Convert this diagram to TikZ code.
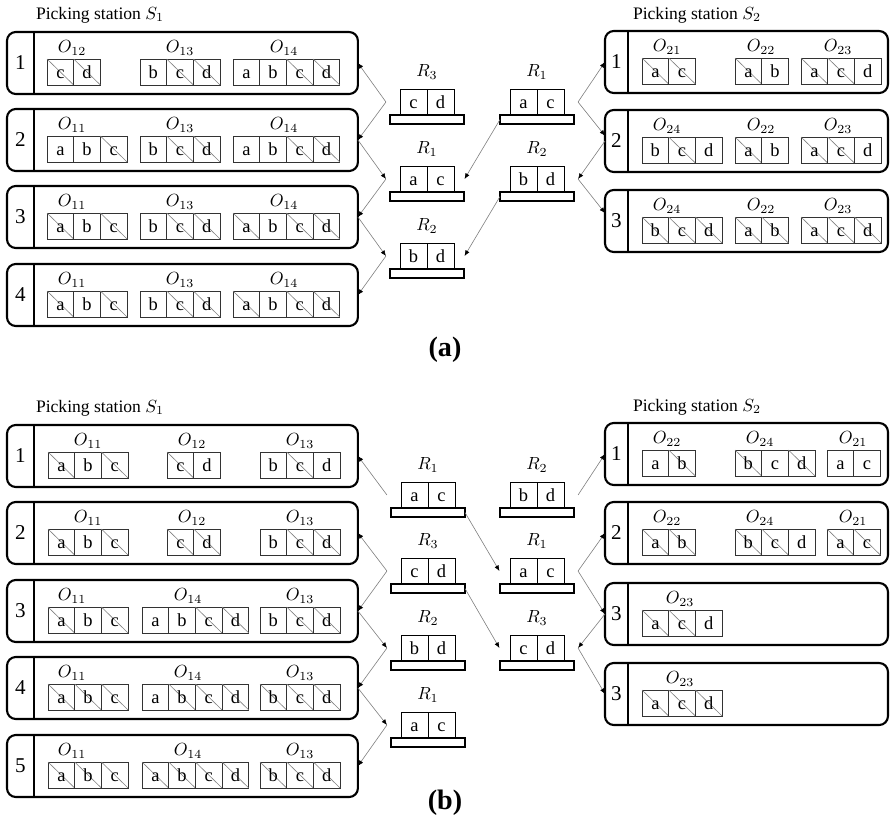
\documentclass[tikz,border=0pt]{standalone}
\usepackage{fontspec}
\setmainfont{Liberation Serif}
\usetikzlibrary{arrows.meta}

% one time slot of a picking station: name, x left, y top, width, divider offset, number
\newcommand{\slotrow}[6]{%
  \node[slotbox, minimum width=#4] (#1) at (#2,#3) {};
  \draw[divider] ([xshift=#5]#1.north west) -- ([xshift=#5]#1.south west);
  \node[slotnum] (#1-n) at ([xshift=#5/2]#1.west) {#6};
}
% one order: name, x of first bin, slot top, label x, order, items (letter/picked)
\newcommand{\orderbox}[6]{%
  \node (#1) at (#4,#3+16) {$#5$};
  \foreach \itm/\done [count=\i from 0] in {#6} {
    \draw[bin] (#2+\i*26.7,#3+27) rectangle ++(26.7,26);
    \ifnum\done=1 \draw[strike] (#2+\i*26.7,#3+27) -- ++(26.7,26); \fi
    \node[letter] (#1-\i) at (#2+\i*26.7+13.35,#3+40) {\itm};
  }
}
% one rack: name, x centre, y top of bins, index, two items
\newcommand{\rackunit}[6]{%
  \node[rackbase] (#1) at (#2,#3+30.5) {};
  \node[rackbin, anchor=south east] (#1-a) at (#1.north) {#5};
  \node[rackbin, anchor=south west] (#1-b) at (#1.north) {#6};
  \node (#1-l) at (#2,#3-17) {$R_{#4}$};
  \coordinate (#1-w) at ([xshift=-8pt]#1-a.west);
  \coordinate (#1-e) at ([xshift=8pt]#1-b.east);
}

\begin{document}
\begin{tikzpicture}[x=0.02cm, y=-0.02cm]
  \tikzset{
    slotbox/.style={draw, line width=1.2pt, rounded corners=5pt, minimum height=1.24cm,
      inner sep=0pt, outer sep=0pt, anchor=north west},
    divider/.style={line width=1.1pt},
    slotnum/.style={font=\fontsize{12}{14}\selectfont},
    bin/.style={draw=black!80, line width=0.55pt},
    strike/.style={draw=gray, line width=0.35pt},
    letter/.style={inner sep=0pt, font=\fontsize{10.5}{12}\selectfont, text height=1.5ex, text depth=0pt},
    rackbase/.style={draw, line width=0.9pt, minimum width=1.48cm, minimum height=0.18cm,
      inner sep=0pt, outer sep=0pt},
    rackbin/.style={draw, line width=0.55pt, minimum width=0.54cm, minimum height=0.52cm,
      inner sep=0pt, outer sep=0pt, font=\fontsize{10.5}{12}\selectfont, text height=1.5ex, text depth=0pt},
    trip/.style={draw=gray, line width=0.35pt, -{Latex[length=3.2pt,width=2.6pt,color=black]}},
    sttitle/.style={font=\fontsize{10}{12}\selectfont},
    panel/.style={font=\fontsize{16}{18}\selectfont\bfseries}
  }
  \useasboundingbox (0,0) rectangle (890,823);

  % ---------- (a) ----------
  % Picking station S1
  \node[sttitle] (aS1) at (100,15) {Picking station $S_1$};
  \slotrow{aS1r1}{7}{32}{7.02cm}{0.54cm}{1}
  \slotrow{aS1r2}{7}{109}{7.02cm}{0.54cm}{2}
  \slotrow{aS1r3}{7}{186}{7.02cm}{0.54cm}{3}
  \slotrow{aS1r4}{7}{264}{7.02cm}{0.54cm}{4}
  \orderbox{aS1r1o1}{47}{32}{72}{O_{12}}{c/1,d/1}
  \orderbox{aS1r1o2}{140}{32}{180}{O_{13}}{b/0,c/1,d/1}
  \orderbox{aS1r1o3}{233}{32}{284}{O_{14}}{a/0,b/0,c/1,d/1}
  \orderbox{aS1r2o1}{47}{109}{72}{O_{11}}{a/0,b/0,c/1}
  \orderbox{aS1r2o2}{140}{109}{180}{O_{13}}{b/0,c/1,d/1}
  \orderbox{aS1r2o3}{233}{109}{284}{O_{14}}{a/0,b/0,c/1,d/1}
  \orderbox{aS1r3o1}{47}{186}{72}{O_{11}}{a/1,b/0,c/1}
  \orderbox{aS1r3o2}{140}{186}{180}{O_{13}}{b/0,c/1,d/1}
  \orderbox{aS1r3o3}{233}{186}{284}{O_{14}}{a/1,b/0,c/1,d/1}
  \orderbox{aS1r4o1}{47}{264}{72}{O_{11}}{a/1,b/0,c/1}
  \orderbox{aS1r4o2}{140}{264}{180}{O_{13}}{b/0,c/1,d/1}
  \orderbox{aS1r4o3}{233}{264}{284}{O_{14}}{a/1,b/0,c/1,d/1}

  % Picking station S2
  \node[sttitle] (aS2) at (697,15) {Picking station $S_2$};
  \slotrow{aS2r1}{605}{31}{5.66cm}{0.46cm}{1}
  \slotrow{aS2r2}{605}{110}{5.66cm}{0.46cm}{2}
  \slotrow{aS2r3}{605}{190}{5.66cm}{0.46cm}{3}
  \orderbox{aS2r1o1}{642}{31}{667}{O_{21}}{a/1,c/1}
  \orderbox{aS2r1o2}{735}{31}{761}{O_{22}}{a/1,b/0}
  \orderbox{aS2r1o3}{801}{31}{838}{O_{23}}{a/1,c/1,d/0}
  \orderbox{aS2r2o1}{642}{110}{667}{O_{24}}{b/0,c/1,d/0}
  \orderbox{aS2r2o2}{735}{110}{761}{O_{22}}{a/1,b/0}
  \orderbox{aS2r2o3}{801}{110}{838}{O_{23}}{a/1,c/1,d/0}
  \orderbox{aS2r3o1}{642}{190}{667}{O_{24}}{b/1,c/1,d/1}
  \orderbox{aS2r3o2}{735}{190}{761}{O_{22}}{a/1,b/1}
  \orderbox{aS2r3o3}{801}{190}{838}{O_{23}}{a/1,c/1,d/1}

  % racks
  \rackunit{aL1}{427}{89}{3}{c}{d}
  \rackunit{aL2}{427}{166}{1}{a}{c}
  \rackunit{aL3}{427}{243}{2}{b}{d}
  \rackunit{aR1}{537}{89}{1}{a}{c}
  \rackunit{aR2}{537}{166}{2}{b}{d}

  % rack trips
  \draw[trip] (aL1-w) -- (aS1r1.east);
  \draw[trip] (aL1-w) -- (aS1r2.east);
  \draw[trip] (aS1r2.east) -- (aL2-w);
  \draw[trip] (aL2-w) -- (aS1r3.east);
  \draw[trip] (aS1r3.east) -- (aL3-w);
  \draw[trip] (aL3-w) -- (aS1r4.east);
  \draw[trip] (aR1-e) -- (aS2r1.west);
  \draw[trip] (aR1-e) -- ([yshift=3pt]aS2r2.west);
  \draw[trip] (aS2r2.west) -- (aR2-e);
  \draw[trip] (aR2-e) -- ([yshift=4.5pt]aS2r3.west);
  \draw[trip] (aR1.west) -- ([xshift=6pt]aL2-b.east);
  \draw[trip] (aR2.west) -- ([xshift=6pt]aL3-b.east);

  \node[panel] (pa) at (445,350) {(a)};

  % ---------- (b) ----------
  % Picking station S1
  \node[sttitle] (bS1) at (100,408) {Picking station $S_1$};
  \slotrow{bS1r1}{7}{425}{7.02cm}{0.54cm}{1}
  \slotrow{bS1r2}{7}{502}{7.02cm}{0.54cm}{2}
  \slotrow{bS1r3}{7}{580}{7.02cm}{0.54cm}{3}
  \slotrow{bS1r4}{7}{657}{7.02cm}{0.54cm}{4}
  \slotrow{bS1r5}{7}{735}{7.02cm}{0.54cm}{5}
  \orderbox{bS1r1o1}{48}{425}{88}{O_{11}}{a/1,b/0,c/1}
  \orderbox{bS1r1o2}{167}{425}{192}{O_{12}}{c/1,d/0}
  \orderbox{bS1r1o3}{260}{425}{300}{O_{13}}{b/0,c/1,d/0}
  \orderbox{bS1r2o1}{48}{502}{88}{O_{11}}{a/1,b/0,c/1}
  \orderbox{bS1r2o2}{167}{502}{192}{O_{12}}{c/1,d/1}
  \orderbox{bS1r2o3}{260}{502}{300}{O_{13}}{b/0,c/1,d/1}
  \orderbox{bS1r3o1}{48}{580}{72}{O_{11}}{a/1,b/0,c/1}
  \orderbox{bS1r3o2}{142}{580}{188}{O_{14}}{a/0,b/0,c/1,d/1}
  \orderbox{bS1r3o3}{260}{580}{300}{O_{13}}{b/0,c/1,d/1}
  \orderbox{bS1r4o1}{48}{657}{72}{O_{11}}{a/1,b/1,c/1}
  \orderbox{bS1r4o2}{142}{657}{188}{O_{14}}{a/0,b/1,c/1,d/1}
  \orderbox{bS1r4o3}{260}{657}{300}{O_{13}}{b/1,c/1,d/1}
  \orderbox{bS1r5o1}{48}{735}{72}{O_{11}}{a/1,b/1,c/1}
  \orderbox{bS1r5o2}{142}{735}{188}{O_{14}}{a/1,b/1,c/1,d/1}
  \orderbox{bS1r5o3}{260}{735}{300}{O_{13}}{b/1,c/1,d/1}

  % Picking station S2
  \node[sttitle] (bS2) at (697,407) {Picking station $S_2$};
  \slotrow{bS2r1}{605}{423}{5.66cm}{0.46cm}{1}
  \slotrow{bS2r2}{605}{502}{5.66cm}{0.46cm}{2}
  \slotrow{bS2r3}{605}{583}{5.66cm}{0.46cm}{3}
  \slotrow{bS2r4}{605}{663}{5.66cm}{0.46cm}{3}
  \orderbox{bS2r1o1}{642}{423}{667}{O_{22}}{a/0,b/1}
  \orderbox{bS2r1o2}{735}{423}{760}{O_{24}}{b/1,c/0,d/1}
  \orderbox{bS2r1o3}{827}{423}{853}{O_{21}}{a/0,c/0}
  \orderbox{bS2r2o1}{642}{502}{667}{O_{22}}{a/1,b/1}
  \orderbox{bS2r2o2}{735}{502}{760}{O_{24}}{b/1,c/1,d/0}
  \orderbox{bS2r2o3}{827}{502}{853}{O_{21}}{a/1,c/1}
  \orderbox{bS2r3o1}{642}{583}{680}{O_{23}}{a/1,c/1,d/0}
  \orderbox{bS2r4o1}{642}{663}{680}{O_{23}}{a/1,c/1,d/1}

  % racks
  \rackunit{bL1}{428}{482}{1}{a}{c}
  \rackunit{bL2}{428}{558}{3}{c}{d}
  \rackunit{bL3}{428}{635}{2}{b}{d}
  \rackunit{bL4}{428}{712}{1}{a}{c}
  \rackunit{bR1}{537}{482}{2}{b}{d}
  \rackunit{bR2}{537}{558}{1}{a}{c}
  \rackunit{bR3}{537}{635}{3}{c}{d}

  % rack trips
  \draw[trip] (bL1-w) -- (bS1r1.east);
  \draw[trip] (bL2-w) -- (bS1r2.east);
  \draw[trip] (bL2-w) -- (bS1r3.east);
  \draw[trip] (bS1r3.east) -- (bL3-w);
  \draw[trip] (bL3-w) -- (bS1r4.east);
  \draw[trip] (bS1r4.east) -- (bL4-w);
  \draw[trip] (bL4-w) -- (bS1r5.east);
  \draw[trip] (bR1-e) -- (bS2r1.west);
  \draw[trip] (bL1.east) -- ([xshift=-6pt]bR2-a.west);
  \draw[trip] (bL2.east) -- ([xshift=-6pt]bR3-a.west);
  \draw[trip] (bR2-e) -- (bS2r2.west);
  \draw[trip] (bR2-e) -- (bS2r3.west);
  \draw[trip] (bS2r3.west) -- (bR3-e);
  \draw[trip] (bR3-e) -- (bS2r4.west);

  \node[panel] (pb) at (445,803) {(b)};
\end{tikzpicture}
\end{document}
